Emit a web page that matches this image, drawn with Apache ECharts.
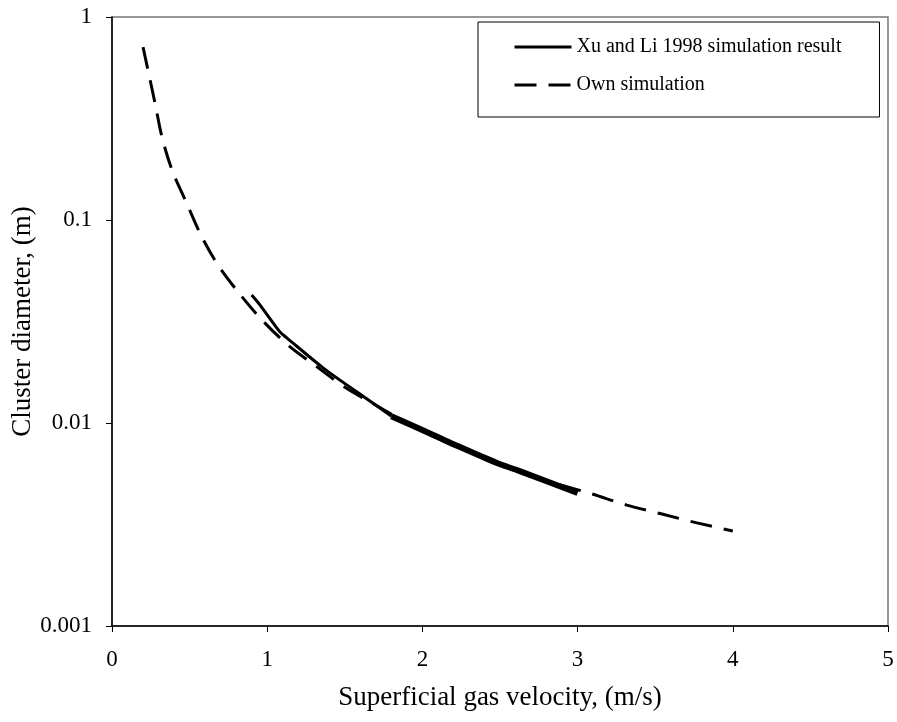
<!DOCTYPE html>
<html>
<head>
<meta charset="utf-8">
<script src="https://cdn.jsdelivr.net/npm/echarts@6/dist/echarts.min.js"></script>
<style>
  html, body { margin: 0; padding: 0; background: #fff; }
  #chart { width: 897px; height: 722px; }
</style>
</head>
<body>
<div id="chart"></div>
<script>
// Own simulation (dashed), velocity in m/s, diameter in m
var ownVel = [0.2, 0.277, 0.322, 0.387, 0.477, 0.573, 0.683, 0.818, 0.966, 1.134, 1.321, 1.501, 1.695, 2.0, 2.5, 2.8, 3.093, 3.318, 3.544, 3.769, 4.0];
var ownDia = [0.711, 0.377, 0.256, 0.176, 0.123, 0.0843, 0.060, 0.0437, 0.0322, 0.0242, 0.0189, 0.0150, 0.0123, 0.0091, 0.0063, 0.0052, 0.00447, 0.00394, 0.00356, 0.00322, 0.00294];

// Xu and Li 1998 simulation result (solid), thin part and thick noisy part
var xuVelA = [0.90, 0.954, 1.082, 1.128, 1.36, 1.579, 1.79, 1.80];
var xuDiaA = [0.0427, 0.0381, 0.0281, 0.0262, 0.0187, 0.0142, 0.01094, 0.0108];
var xuVelB = [1.80, 2.07, 2.178, 2.48, 2.61, 3.0];
var xuDiaB = [0.0108, 0.00873, 0.0080, 0.00635, 0.00586, 0.00452];

var xTicks = [0, 5, 1];        // min, max, interval
var yTicks = [0.001, 1];       // log axis range

var serif = 'Liberation Serif, Times New Roman, serif';

function pairs(xs, ys) {
  return xs.map(function (x, i) { return [x, ys[i]]; });
}

var chart = echarts.init(document.getElementById('chart'));

var option = {
  animation: false,
  backgroundColor: '#fff',
  textStyle: { fontFamily: serif, color: '#000' },
  grid: {
    left: 112, right: 9, top: 17, bottom: 96,
    containLabel: false,
    outerBoundsMode: 'none',
    show: true, borderColor: '#777', borderWidth: 1.5
  },
  legend: {
    orient: 'vertical',
    left: 478, top: 22,
    padding: [15, 38, 22, 35],
    itemGap: 18,
    itemWidth: 57, itemHeight: 14,
    borderColor: '#000', borderWidth: 1,
    backgroundColor: '#fff',
    itemStyle: { opacity: 0 },
    lineStyle: { width: 3 },
    textStyle: { fontFamily: serif, fontSize: 20, color: '#000' },
    data: ['Xu and Li 1998 simulation result', 'Own simulation']
  },
  xAxis: {
    type: 'value',
    min: xTicks[0], max: xTicks[1], interval: xTicks[2],
    name: 'Superficial gas velocity, (m/s)',
    nameLocation: 'middle', nameGap: 58,
    nameMoveOverlap: false,
    nameTextStyle: { fontFamily: serif, fontSize: 27, color: '#000' },
    axisLine: { onZero: false, lineStyle: { color: '#000', width: 1.5 } },
    axisTick: { show: true, length: 6, lineStyle: { color: '#000' } },
    axisLabel: { fontFamily: serif, fontSize: 23, color: '#000', margin: 22 },
    splitLine: { show: false }
  },
  yAxis: {
    type: 'log', logBase: 10,
    min: yTicks[0], max: yTicks[1],
    name: 'Cluster diameter, (m)',
    nameLocation: 'middle', nameGap: 76,
    nameMoveOverlap: false,
    nameTextStyle: { fontFamily: serif, fontSize: 27, color: '#000' },
    axisLine: { show: true, lineStyle: { color: '#000', width: 1.5 } },
    axisTick: { show: true, length: 6, lineStyle: { color: '#000' } },
    axisLabel: {
      fontFamily: serif, fontSize: 23, color: '#000', margin: 20,
      formatter: function (v) { return String(+(+v).toPrecision(1)); }
    },
    splitLine: { show: false },
    minorTick: { show: false }
  },
  series: [
    {
      name: 'Own simulation',
      type: 'line',
      showSymbol: false,
      symbol: 'none',
      smooth: 0.3,
      data: pairs(ownVel, ownDia),
      lineStyle: { color: '#000', width: 3, type: [22, 12] },
      itemStyle: { color: '#000' },
      z: 2
    },
    {
      name: 'Xu and Li 1998 simulation result',
      type: 'line',
      showSymbol: false,
      symbol: 'none',
      smooth: 0.3,
      data: pairs(xuVelA, xuDiaA),
      lineStyle: { color: '#000', width: 3, type: 'solid' },
      itemStyle: { color: '#000' },
      z: 3
    },
    {
      name: 'Xu and Li 1998 simulation result',
      type: 'line',
      showSymbol: false,
      symbol: 'none',
      smooth: 0.3,
      data: pairs(xuVelB, xuDiaB),
      lineStyle: { color: '#000', width: 6, type: 'solid' },
      itemStyle: { color: '#000' },
      z: 3
    }
  ]
};

chart.setOption(option);
</script>
</body>
</html>
